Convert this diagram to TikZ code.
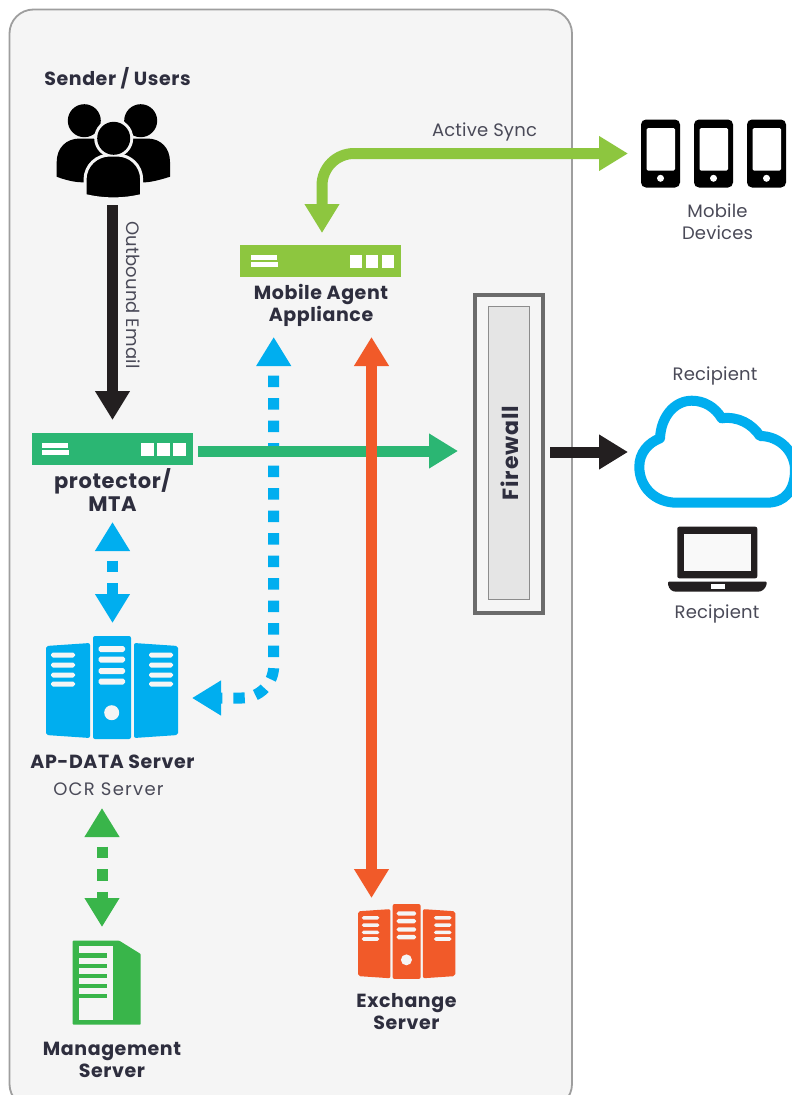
\documentclass[tikz,border=0pt]{standalone}
\usepackage{fontspec}
\setmainfont{Poppins}
\usetikzlibrary{arrows.meta}
\definecolor{cblue}{HTML}{00AEEF}
\definecolor{cteal}{HTML}{2BB673}
\definecolor{clime}{HTML}{8DC63F}
\definecolor{corange}{HTML}{F15A29}
\definecolor{cgreen}{HTML}{39B54A}
\definecolor{cblack}{HTML}{231F20}
\definecolor{cpanel}{HTML}{F5F5F5}
\definecolor{ctext}{HTML}{2E2E3E}
\definecolor{ctextb}{HTML}{4A4A58}
\tikzset{
  flow/.style={line width=11pt,-{Triangle[width=33pt,length=29pt]}},
  flowboth/.style={line width=11pt,{Triangle[width=33pt,length=29pt]}-{Triangle[width=33pt,length=29pt]}},
  dots/.style={dash pattern=on 11.5pt off 11pt,dash phase=11pt},
  boldlabel/.style={font=\bfseries\fontsize{19}{22}\selectfont\addfontfeatures{LetterSpace=3},text=ctext,align=center,inner sep=0pt},
  pluslabel/.style={font=\bfseries\fontsize{21}{23}\selectfont\addfontfeatures{LetterSpace=3},text=ctext,align=center,inner sep=0pt},
  plainlabel/.style={font=\fontsize{18}{22}\selectfont\addfontfeatures{LetterSpace=1},text=ctextb,align=center,inner sep=0pt},
  appliance/.style={minimum width=161pt,minimum height=32pt,inner sep=0pt,fill=#1},
}
\newcommand{\applianceglyphs}[2]{%
  \fill[white] (#1+10,#2-6) rectangle ++(26,4.5);
  \fill[white] (#1+10,#2+1) rectangle ++(27,4.5);
  \fill[white] (#1+109,#2-6) rectangle ++(12.5,12.5);
  \fill[white] (#1+125,#2-6) rectangle ++(12.5,12.5);
  \fill[white] (#1+141,#2-6) rectangle ++(12.5,12.5);
}
\newcommand{\rbar}[4]{\fill[cpanel,rounded corners=1.8pt] (#1,#2-#4/2) rectangle (#3,#2+#4/2);}
\newcommand{\servericon}[5]{%
  \begin{scope}[shift={(#1,#2)},xscale=#3,yscale=#4]
    \fill[#5,rounded corners=2pt] (0,10) -- (44,7) -- (44,102) -- (0,99) -- cycle;
    \fill[#5,rounded corners=2pt] (47,0) rectangle (85,103);
    \fill[#5,rounded corners=2pt] (88,7) -- (132,10) -- (132,99) -- (88,102) -- cycle;
    \foreach \y in {19,29,39,48} {\rbar{5}{\y}{29}{5}\rbar{103}{\y}{127}{5}}
    \foreach \y in {13,23.5,35,45.5} {\rbar{52.5}{\y}{79}{6}}
    \fill[cpanel] (65.7,76.7) circle (7.5);
  \end{scope}
}
\newcommand{\phoneicon}[1]{%
  \fill[black,rounded corners=5pt] (#1,119.5) rectangle (#1+39,187.5);
  \fill[white,rounded corners=1.5pt] (#1+5.5,128) rectangle (#1+34,170.7);
  \fill[white] (#1+19.5,178.3) circle (3.5);
}
\begin{document}
\begin{tikzpicture}[x=1pt,y=-1pt]
\useasboundingbox (0,0) rectangle (792,1095);
\fill[white] (0,0) rectangle (792,1095);
\begin{scope}
\clip (0,0) rectangle (792,1095);
\draw[fill=cpanel,draw=black!38,line width=1.8pt,rounded corners=24pt] (9.5,9.5) rectangle (572,1108);
\end{scope}

% users icon
\fill[black] (84.3,120.7) circle (16.5);
\fill[black] (140.7,120.7) circle (16.5);
\fill[black] (56.7,176.7) -- (56.7,162) .. controls (56.7,148) and (66,138.5) .. (80,138.5)
  -- (147,138.5) .. controls (161,138.5) and (170,148) .. (170,162) -- (170,176.7)
  .. controls (160,180) and (150,182.3) .. (145,182.3) -- (82,182.3) .. controls (75,182.3) and (65,180) .. (56.7,176.7) -- cycle;
\draw[cpanel,fill=cpanel,line width=6pt] (113.7,138.3) circle (16.5);
\path[draw=cpanel,fill=black,line width=3pt] (85,195.5) -- (85,180) .. controls (85,165) and (97,155) .. (110,155)
  -- (117,155) .. controls (130,155) and (141.7,165) .. (141.7,180) -- (141.7,195.5)
  .. controls (123,200) and (104,200) .. (85,195.5) -- cycle;
\fill[black] (113.7,138.3) circle (16.5);

% appliances
\node[appliance=cteal] (mta) at (112,449) {};
\applianceglyphs{32}{449}
\node[appliance=clime] (agent) at (320.5,261) {};
\applianceglyphs{240.5}{261}

% firewall
\node[draw=black!58,line width=4pt,minimum width=68pt,minimum height=318pt,inner sep=0pt] (fwouter) at (509,454) {};
\node[draw=black!45,fill=black!10,line width=1.4pt,minimum width=41pt,minimum height=293pt,inner sep=0pt] (fw) at (509,453) {};
\node[pluslabel,rotate=90,font=\bfseries\fontsize{22}{23}\selectfont\addfontfeatures{LetterSpace=4}] (fwlabel) at (510,453) {Firewall};

% servers
\servericon{46}{636}{1}{1}{cblue}
\servericon{358}{904}{.737}{.728}{corange}

% management server
\fill[cgreen,rounded corners=.8pt] (72.7,940.7) -- (119.3,940.7) -- (140.7,954) -- (140.7,1024.7) -- (72.7,1024.7) -- cycle;
\fill[cpanel] (78.7,945.7) rectangle (113.3,1020);
\foreach \y in {955.3,965.7,975.7,985.7,995.7} {\fill[cgreen] (78.7,\y-2.2) rectangle (106.7,\y+2.2);}

% phones
\phoneicon{641}
\phoneicon{694}
\phoneicon{747}

% cloud
\begin{scope}
\clip (620,380) rectangle (792,520);
\draw[cblue,line width=10pt,line join=round] (676.7,502.7)
  .. controls (655,502.7) and (639.3,487) .. (639.3,466.7)
  .. controls (639.3,453) and (648,443) .. (660,438.3)
  .. controls (661,416) and (675,400.7) .. (691.7,400.7)
  .. controls (704,400.7) and (715,407) .. (721.7,418.3)
  .. controls (738,416) and (752,424) .. (760,436)
  .. controls (780,436) and (795,452) .. (795,470)
  .. controls (795,490) and (785,502.7) .. (766.7,502.7)
  -- cycle;
\end{scope}

% laptop
\fill[cblack,rounded corners=2pt] (677.3,526.7) rectangle (757.3,578.3);
\fill[cpanel!60!white] (684,534) rectangle (750.7,571);
\fill[cblack,rounded corners=1pt] (668,581.7) -- (766.7,581.7) -- (766.7,584) .. controls (765,589) and (762,591.7) .. (757,591.7) -- (677,591.7) .. controls (672,591.7) and (669,589) .. (668,584) -- cycle;
\fill[white] (710.7,584.3) rectangle (725,588.7);

% labels
\node[boldlabel] (lsender) at (117.5,78) {Sender / Users};
\node[plainlabel,rotate=-90] (lout) at (133,295) {Outbound Email};
\node[plainlabel] (lsync) at (484.5,131.5) {Active Sync};
\node[plainlabel] (lmob) at (717.5,221.5) {Mobile\\Devices};
\node[plainlabel] (lrec1) at (715,376) {Recipient};
\node[plainlabel] (lrec2) at (717,614) {Recipient};
\node[boldlabel] (lagent) at (321,305.5) {Mobile Agent\\Appliance};
\node[pluslabel] (lmta) at (112.5,490) {protector/\\MTA};
\node[boldlabel] (lap) at (112.5,761.5) {AP-DATA Server};
\node[plainlabel,font=\fontsize{18}{22}\selectfont\addfontfeatures{LetterSpace=7}] (locr) at (108.5,789) {OCR Server};
\node[boldlabel] (lmgmt) at (112,1059.5) {Management\\Server};
\node[boldlabel] (lex) at (406.5,1011.5) {Exchange\\Server};

% connector ends
\coordinate (usersOut) at (112.5,205);
\coordinate (mtaIn) at (112.5,420);
\coordinate (mtaOut) at (198,451);
\coordinate (fwIn) at (458,451);
\coordinate (fwOut) at (550,452);
\coordinate (cloudIn) at (628,452);
\coordinate (agentIn) at (322,233);
\coordinate (phonesIn) at (628,153.5);
\coordinate (agentBlue) at (273.7,337);
\coordinate (serverBlue) at (192,698);
\coordinate (agentOrange) at (371.5,337);
\coordinate (exchangeIn) at (371.5,898);
\coordinate (mtaBlue) at (112.5,522);
\coordinate (serverTop) at (112.5,623);
\coordinate (serverBottom) at (102,808);
\coordinate (mgmtTop) at (102,927);

% connectors
\draw[flow,cblack] (usersOut) -- (mtaIn);
\draw[flowboth,cblue,dots,rounded corners=32pt] (agentBlue) -- (273.7,698) -- (serverBlue);
\draw[flow,cteal] (mtaOut) -- (fwIn);
\draw[flow,cblack] (fwOut) -- (cloudIn);
\draw[flowboth,clime,rounded corners=32pt] (phonesIn) -- (322,153.5) -- (agentIn);
\draw[flowboth,corange] (agentOrange) -- (exchangeIn);
\draw[flowboth,cblue,dots] (mtaBlue) -- (serverTop);
\draw[flowboth,cgreen,dots] (serverBottom) -- (mgmtTop);
\end{tikzpicture}
\end{document}
